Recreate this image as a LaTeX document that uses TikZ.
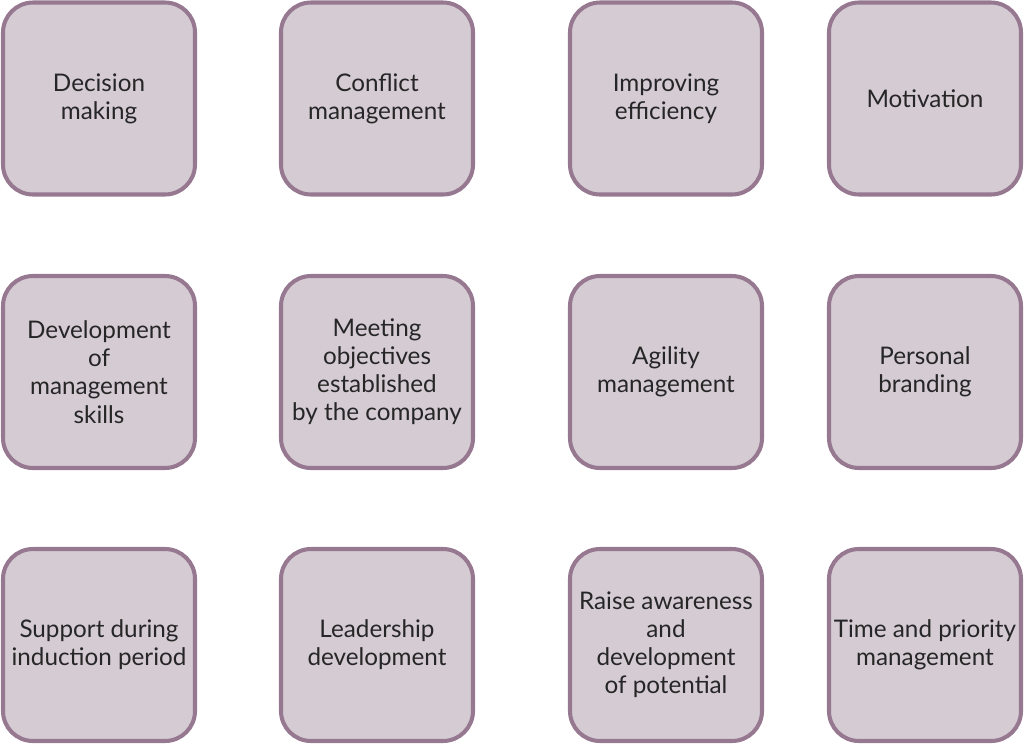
\documentclass[tikz,border=0pt]{standalone}
\usepackage{fontspec}
\setmainfont{Lato}
\usetikzlibrary{positioning}
\definecolor{boxfill}{RGB}{213,203,211}
\definecolor{boxdraw}{RGB}{150,120,145}
\tikzset{
  topic/.style={rectangle, draw=boxdraw, fill=boxfill, rounded corners=0.6cm,
                minimum width=3.84cm, minimum height=3.84cm,
                line width=2.3pt, align=center, inner sep=2pt,
                font=\fontsize{13.8}{16}\selectfont, text=black!85},
}
\begin{document}
\begin{tikzpicture}
    \useasboundingbox (0,0) rectangle (20.48,-14.88);
    % first row
    \node[topic] (decision) at (1.98,-1.97) {Decision\\making};
    \node[topic] (conflict) at (7.54,-1.97) {Conflict\\management};
    \node[topic] (efficiency) at (13.32,-1.97) {Improving\\efficiency};
    \node[topic] (motivation) at (18.50,-1.97) {Motivation};
    % second row
    \node[topic] (skills) at (1.98,-7.44) {Development\\of\\management\\skills};
    \node[topic] (objectives) at (7.54,-7.44) {Meeting\\objectives\\established\\by the company};
    \node[topic] (agility) at (13.32,-7.44) {Agility\\management};
    \node[topic] (branding) at (18.50,-7.44) {Personal\\branding};
    % third row
    \node[topic] (induction) at (1.98,-12.90) {Support during\\induction period};
    \node[topic] (leadership) at (7.54,-12.90) {Leadership\\development};
    \node[topic] (potential) at (13.32,-12.90) {Raise awareness\\and\\development\\of potential};
    \node[topic] (priority) at (18.50,-12.90) {Time and priority\\management};
\end{tikzpicture}
\end{document}
